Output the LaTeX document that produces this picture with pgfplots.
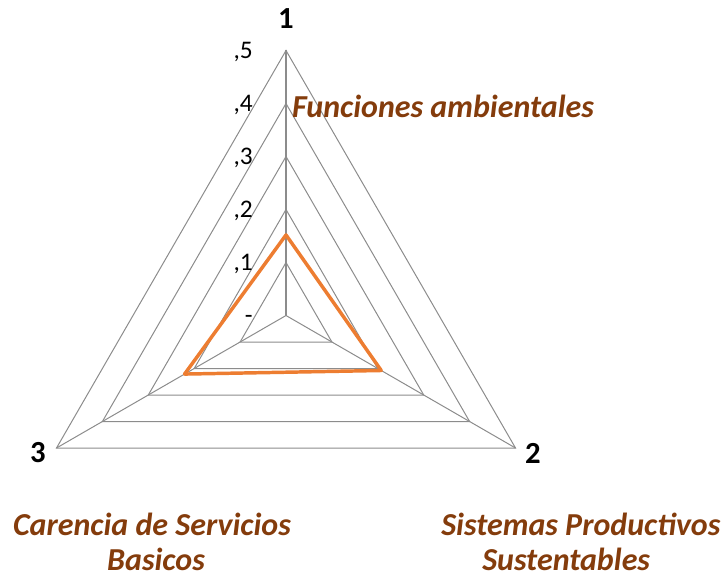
\documentclass[border=0pt]{standalone}
\usepackage{fontspec}
\setmainfont{Carlito}
\usepackage{pgfplots}
\pgfplotsset{compat=1.18}
\usepgfplotslibrary{polar}
\definecolor{gridgray}{HTML}{8C8C8C}
\definecolor{lineorange}{HTML}{ED7D31}
\definecolor{labelbrown}{HTML}{843C0C}
\begin{document}
\begin{tikzpicture}[x=0.75pt,y=-0.75pt]
\useasboundingbox (0,0) rectangle (723,578);
\coordinate (C) at (286,315.5);
\begin{axis}[anchor=origin, at={(C)}, x=397.5pt, y=397.5pt, hide axis, clip=false,
  xmin=-0.5, xmax=0.5, ymin=-0.3, ymax=0.55]
% rings
\addplot[gridgray, line width=0.75pt, data cs=polar] coordinates {(90,0.1) (-30,0.1) (210,0.1)} -- cycle;
\addplot[gridgray, line width=0.75pt, data cs=polar] coordinates {(90,0.2) (-30,0.2) (210,0.2)} -- cycle;
\addplot[gridgray, line width=0.75pt, data cs=polar] coordinates {(90,0.3) (-30,0.3) (210,0.3)} -- cycle;
\addplot[gridgray, line width=0.75pt, data cs=polar] coordinates {(90,0.4) (-30,0.4) (210,0.4)} -- cycle;
\addplot[gridgray, line width=0.75pt, data cs=polar] coordinates {(90,0.5) (-30,0.5) (210,0.5)} -- cycle;
% spokes
\addplot[gridgray, line width=0.75pt, data cs=polar] coordinates {(-30,0) (-30,0.5)};
\addplot[gridgray, line width=0.75pt, data cs=polar] coordinates {(210,0) (210,0.5)};
\addplot[gridgray, line width=1.3pt, data cs=polar] coordinates {(90,0) (90,0.5)};
% data series
\addplot[lineorange, line width=2.6pt, line join=round, data cs=polar] coordinates {(90,0.152) (-30,0.2075) (210,0.221)} -- cycle;
\end{axis}
\tikzset{catlab/.style={font=\bfseries\fontsize{23}{27}\selectfont, inner sep=0pt},
  ticklab/.style={font=\fontsize{19}{22}\selectfont, inner sep=0pt, anchor=base east},
  brownlab/.style={font=\bfseries\itshape\fontsize{24}{28}\selectfont, text=labelbrown, inner sep=0pt}}
\node[catlab] at (286,19) {1};
\node[catlab] at (533,453) {2};
\node[catlab] at (38,453) {3};
\node[ticklab] at (253,58.5) {,5};
\node[ticklab] at (253,111.5) {,4};
\node[ticklab] at (253,164.5) {,3};
\node[ticklab] at (253,217.5) {,2};
\node[ticklab] at (253,270.5) {,1};
\node[ticklab] at (253,323.5) {-};
\node[brownlab, anchor=base] at (443,117) {Funciones ambientales};
\node[brownlab, anchor=base] at (152,535) {Carencia de Servicios};
\node[brownlab, anchor=base] at (156,570) {Basicos};
\node[brownlab, anchor=base west] at (441,535) {Sistemas Productivos};
\node[brownlab, anchor=base west] at (482,570) {Sustentables};
\end{tikzpicture}
\end{document}
